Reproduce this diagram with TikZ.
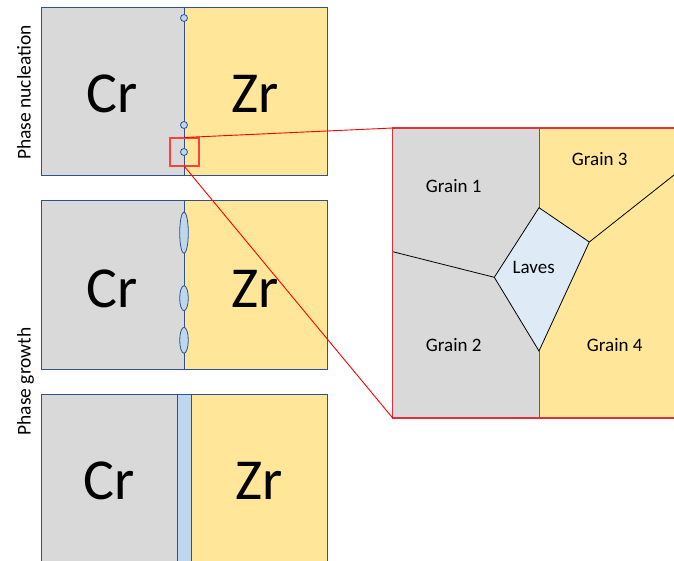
\documentclass[tikz,border=0pt]{standalone}
\usepackage{fontspec}
\setmainfont{Carlito}
\definecolor{crgray}{HTML}{D9D9D9}
\definecolor{zryellow}{HTML}{FFE699}
\definecolor{edgeblue}{HTML}{2F528F}
\definecolor{phaseblue}{HTML}{BDD7EE}
\definecolor{laveslight}{HTML}{DEEBF7}
\definecolor{zoomred}{HTML}{E0303A}
\definecolor{slateline}{HTML}{4A5F8A}
\tikzset{
  crfill/.style={fill=crgray},
  zrfill/.style={fill=zryellow},
  panelframe/.style={draw=edgeblue, line width=1pt},
  nucleus/.style={fill=phaseblue, draw=edgeblue, line width=0.8pt},
  bigsym/.style={inner sep=0pt, font=\fontsize{58}{60}\selectfont},
  stagelabel/.style={inner sep=0pt, rotate=90, anchor=base, font=\fontsize{19.5}{22}\selectfont},
  grainlabel/.style={inner sep=0pt, font=\fontsize{19}{22}\selectfont},
  boundary/.style={draw=black, line width=0.8pt},
  zoomlink/.style={draw=red, line width=0.9pt},
}
\begin{document}
\begin{tikzpicture}[x=1pt, y=-1pt]
\clip (0,0) rectangle (674,561);
\fill[white] (0,0) rectangle (674,561);

% ---- panel 1: nucleation ----
\path[crfill] (41,8) rectangle (184,176);
\path[zrfill] (184,8) rectangle (327,176);
\draw[panelframe] (41,8) rectangle (327,176);
\draw[panelframe] (184,8) -- (184,176);
\foreach \yy in {18,125,152} \draw[nucleus] (184,\yy) circle (3.5);
\node[bigsym] (cr1) at (112.5,94) {Cr};
\node[bigsym] (zr1) at (255.5,94) {Zr};

% ---- panel 2: growth of lens-shaped particles ----
\path[crfill] (41,201) rectangle (184,369);
\path[zrfill] (184,201) rectangle (327,369);
\draw[panelframe] (41,201) rectangle (327,369);
\draw[panelframe] (184,201) -- (184,369);
\draw[nucleus] (184,232.7) ellipse (4.3 and 20.7);
\draw[nucleus] (184,298.2) ellipse (4.3 and 12.5);
\draw[nucleus] (184,340.3) ellipse (4.3 and 13);
\node[bigsym] (cr2) at (112.5,289) {Cr};
\node[bigsym] (zr2) at (255.5,289) {Zr};

% ---- panel 3: continuous layer ----
\path[crfill] (41,394) rectangle (177.7,580);
\path[fill=phaseblue] (177.7,394) rectangle (191.3,580);
\path[zrfill] (191.3,394) rectangle (327,580);
\draw[panelframe] (41,394) rectangle (327,580);
\draw[panelframe] (177.7,394) -- (177.7,580);
\draw[panelframe] (191.3,394) -- (191.3,580);
\node[bigsym] (cr3) at (109.5,480.5) {Cr};
\node[bigsym] (zr3) at (259,480.5) {Zr};

% ---- stage labels ----
\node[stagelabel] (nuc) at (30.5,92.5) {Phase nucleation};
\node[stagelabel] (gro) at (30.5,381.5) {Phase growth};

% ---- magnified triple junction ----
\coordinate (tl) at (392.7,128);
\coordinate (bl) at (392.7,418);
\coordinate (lt) at (539,207.7);
\coordinate (lr) at (589.3,242);
\coordinate (lb) at (539,351);
\coordinate (ll) at (494.3,277.3);
\path[crfill] (392.7,128) rectangle (539,418);
\path[zrfill] (539,128) rectangle (700,418);
\draw[slateline, line width=1pt] (539,128) -- (lt);
\draw[slateline, line width=1pt] (lb) -- (539,418);
\draw[boundary] (392.7,251.7) -- (ll);
\draw[boundary] (lr) -- (674,175);
\draw[boundary, fill=laveslight] (lt) -- (lr) -- (lb) -- (ll) -- cycle;
\draw[zoomred, line width=1.5pt] (392.7,128) rectangle (700,418);

\node[grainlabel] (g1) at (453.7,186) {Grain 1};
\node[grainlabel] (g2) at (453.7,345) {Grain 2};
\node[grainlabel] (g3) at (599.7,159.3) {Grain 3};
\node[grainlabel] (g4) at (614.7,345) {Grain 4};
\node[grainlabel] (lv) at (533.7,267.7) {Laves};

% ---- zoom marker and guide lines ----
\node[draw=red!75, line width=1.5pt, minimum width=29pt, minimum height=28pt, inner sep=0pt] (mark) at (184.5,152) {};
\coordinate (mt) at (184,137.5);
\coordinate (mb) at (184,166);
\draw[zoomlink] (mt) -- (tl);
\draw[zoomlink] (mb) -- (bl);
\end{tikzpicture}
\end{document}
